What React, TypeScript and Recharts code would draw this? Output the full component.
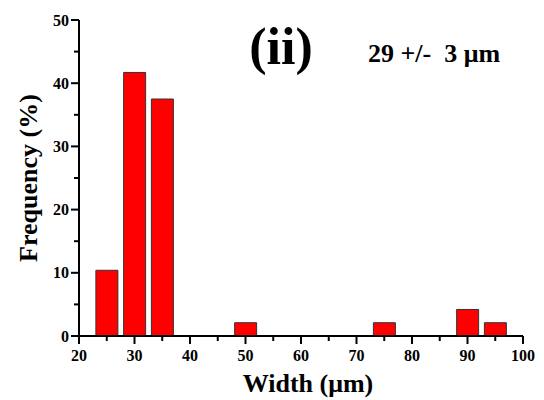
import React from "react";
import {
  BarChart,
  Bar,
  XAxis,
  YAxis,
  Label,
} from "recharts";

const widths = [25, 30, 35, 50, 75, 90, 95];
const frequencies = [10.4, 41.7, 37.5, 2.1, 2.1, 4.2, 2.1];
const xTicks = [20, 25, 30, 35, 40, 45, 50, 55, 60, 65, 70, 75, 80, 85, 90, 95, 100];
const yTicks = [0, 5, 10, 15, 20, 25, 30, 35, 40, 45, 50];

const data = widths.map((w, i) => ({ width: w, freq: frequencies[i] }));

const FONT = '"Liberation Serif", "Times New Roman", serif';

function XTick(props: any) {
  const { x, y, payload } = props;
  const major = payload.value % 10 === 0;
  return (
    <g>
      <line x1={x} y1={y} x2={x} y2={y + (major ? 8 : 5)} stroke="#000" strokeWidth={2} />
      {major && (
        <text x={x} y={y + 25} textAnchor="middle" fontFamily={FONT} fontWeight="bold" fontSize={16} fill="#000">
          {payload.value}
        </text>
      )}
    </g>
  );
}

function YTick(props: any) {
  const { x, y, payload } = props;
  const major = payload.value % 10 === 0;
  return (
    <g>
      <line x1={x} y1={y} x2={x - (major ? 8 : 5)} y2={y} stroke="#000" strokeWidth={2} />
      {major && (
        <text x={x - 10} y={y + 5.5} textAnchor="end" fontFamily={FONT} fontWeight="bold" fontSize={16} fill="#000">
          {payload.value}
        </text>
      )}
    </g>
  );
}

export default function App() {
  return (
    <div style={{ position: "absolute", left: 0, top: 0, width: 544, height: 400, background: "#fff" }}>
      <BarChart
        width={544}
        height={400}
        data={data}
        margin={{ top: 20, right: 21, bottom: 0, left: 0 }}
      >
        <XAxis
          dataKey="width"
          type="number"
          domain={[20, 100]}
          ticks={xTicks}
          interval={0}
          height={64}
          tickSize={0}
          tickMargin={0}
          tick={<XTick />}
          stroke="#000"
          strokeWidth={2}
        >
          <Label
            content={({ viewBox }: any) => (
              <text
                x={viewBox.x + viewBox.width / 2 + 7}
                y={viewBox.y + 56}
                textAnchor="middle"
                fontFamily={FONT}
                fontWeight="bold"
                fontSize={26}
                fill="#000"
              >
                Width (μm)
              </text>
            )}
          />
        </XAxis>
        <XAxis
          xAxisId="top"
          orientation="top"
          type="number"
          domain={[20, 100]}
          height={0}
          tick={false}
          tickLine={false}
          stroke="#000"
          strokeWidth={2}
        />
        <YAxis
          type="number"
          domain={[0, 50]}
          ticks={yTicks}
          interval={0}
          width={79}
          tickSize={0}
          tickMargin={0}
          tick={<YTick />}
          stroke="#000"
          strokeWidth={2}
        >
          <Label
            content={({ viewBox }: any) => (
              <text
                x={37}
                y={viewBox.y + viewBox.height / 2}
                transform={`rotate(-90 37 ${viewBox.y + viewBox.height / 2})`}
                textAnchor="middle"
                fontFamily={FONT}
                fontWeight="bold"
                fontSize={26}
                fill="#000"
              >
                Frequency (%)
              </text>
            )}
          />
        </YAxis>
        <YAxis
          yAxisId="right"
          orientation="right"
          type="number"
          domain={[0, 50]}
          width={0}
          tick={false}
          tickLine={false}
          stroke="#000"
          strokeWidth={2}
        />
        <Bar
          dataKey="freq"
          fill="#ff0000"
          stroke="#333"
          strokeWidth={1}
          barSize={22}
          isAnimationActive={false}
        />
      </BarChart>
      <svg
        width={544}
        height={400}
        style={{ position: "absolute", left: 0, top: 0, pointerEvents: "none" }}
      >
        <text x={281} y={64} textAnchor="middle" fontFamily={FONT} fontWeight="bold" fontSize={52} fill="#000">
          (ii)
        </text>
        <text x={368} y={62} fontFamily={FONT} fontWeight="bold" fontSize={26} fill="#000" style={{ whiteSpace: "pre" }}>
          29 +/-  3 μm
        </text>
      </svg>
    </div>
  );
}
